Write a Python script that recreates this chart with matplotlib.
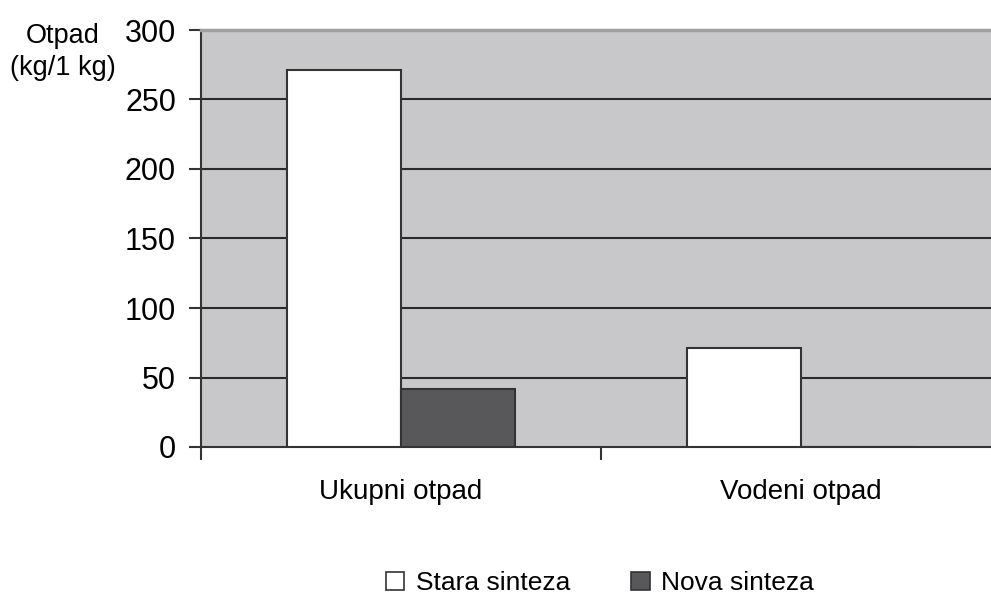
import matplotlib
matplotlib.use("Agg")
import matplotlib.pyplot as plt
from matplotlib.patches import Patch
import numpy as np

categories = ["Ukupni otpad", "Vodeni otpad"]
series_names = ["Stara sinteza", "Nova sinteza"]
stara = [271, 71]
nova = [42, 0]
yticks = [0, 50, 100, 150, 200, 250, 300]

plt.rcParams['font.family'] = ['Liberation Sans', 'DejaVu Sans']

W, H = 991, 599
fig = plt.figure(figsize=(W/100, H/100), dpi=100)
ax = fig.add_axes([201/W, (H-447)/H, 800/W, (447-30)/H])
ax.set_facecolor('#c8c8ca')

x = np.arange(len(categories)) + 0.5
bw = 0.285
edge = '#333333'
ax.bar(x - bw/2, stara, bw, color='white', edgecolor=edge, linewidth=1.5, zorder=3)
ax.bar(x + bw/2, nova, bw, color='#58585a', edgecolor=edge, linewidth=1.5, zorder=3)

ax.set_xlim(0, len(categories))
ax.set_ylim(0, 300)
ax.set_yticks(yticks)
ax.set_yticklabels([str(v) for v in yticks], fontsize=22)
for v in yticks[1:-1]:
    ax.axhline(v, color='#2a2a2a', linewidth=1.5, zorder=2)

ax.set_xticks(x)
ax.set_xticklabels(categories, fontsize=20)
ax.tick_params(axis='x', which='major', length=0, pad=23)
ax.set_xticks(np.arange(len(categories) + 1), minor=True)
ax.tick_params(axis='x', which='minor', length=9, width=1.5, color=edge, direction='out')
ax.tick_params(axis='y', length=9, width=1.5, color=edge, direction='out', pad=9)

for s in ['left', 'bottom']:
    ax.spines[s].set_color(edge)
    ax.spines[s].set_linewidth(1.5)
ax.spines['top'].set_color('#a0a0a2')
ax.spines['top'].set_linewidth(2.5)
ax.spines['right'].set_visible(False)

fig.text(63/W, 1 - 36/H, "Otpad", fontsize=19.5, ha='center', va='center')
fig.text(63/W, 1 - 68/H, "(kg/1 kg)", fontsize=19.5, ha='center', va='center')

handles = [Patch(facecolor='white', edgecolor=edge, linewidth=1.2),
           Patch(facecolor='#58585a', edgecolor=edge, linewidth=1.2)]
fig.legend(handles, series_names, loc='center', bbox_to_anchor=(600/W, 1 - 583/H),
           ncol=2, frameon=False, fontsize=19, handlelength=0.7, handleheight=0.7,
           handletextpad=0.45, columnspacing=2.3)

fig.savefig("out.png", dpi=100)
